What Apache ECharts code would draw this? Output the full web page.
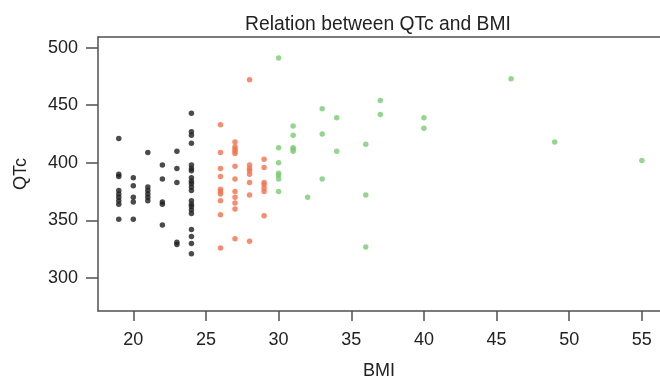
<!DOCTYPE html>
<html><head><meta charset="utf-8">
<script src="https://cdn.jsdelivr.net/npm/echarts@6/dist/echarts.min.js"></script>
<style>html,body{margin:0;padding:0;background:#fff}#c{width:660px;height:379px}</style>
</head><body><div id="c"></div>
<script>
var title = "Relation between QTc and BMI";
var xTicks = [20, 25, 30, 35, 40, 45, 50, 55];
var yTicks = [300, 350, 400, 450, 500];
// BMI < 25 (black)
var lowBMI = [19,19,19,19,19,19,19,19,19, 20,20,20,20,20, 21,21,21,21,21,21, 22,22,22,22,22, 23,23,23,23,23,
  24,24,24,24,24,24,24,24,24,24,24,24,24,24,24,24,24,24,24,24,24];
var lowQTc = [421,390,388,376,373,370,367,364,351, 387,380,370,366,351, 409,379,376,373,370,367, 398,386,366,364,346, 410,395,383,331,329,
  443,427,424,417,398,395,393,387,384,382,379,376,367,364,362,359,356,342,336,330,321];
// BMI 25-30 (red)
var midBMI = [26,26,26,26,26,26,26,26,26,26, 27,27,27,27,27,27,27,27,27,27,27,27, 28,28,28,28,28,28,28,28, 29,29,29,29,29,29,29];
var midQTc = [433,409,395,388,377,375,373,367,355,326, 418,414,412,410,408,397,386,375,370,365,360,334, 472,398,395,393,390,383,372,332, 403,396,383,381,378,375,354];
// BMI >= 30 (green)
var highBMI = [30,30,30,30,30,30,30, 31,31,31,31,31, 32, 33,33,33, 34,34, 36,36,36, 37,37, 40,40, 46, 49, 55];
var highQTc = [491,413,400,391,389,386,375, 432,424,413,412,410, 370, 447,425,386, 439,410, 416,372,327, 454,442, 439,430, 473, 418, 402];

function pairs(xs, ys){ return xs.map(function(x,i){ return [x, ys[i]]; }); }
var font = "'Liberation Sans', Arial, sans-serif";
var axisCol = '#505050';
var txtCol = '#222222';
var xMin = 17.57, xMax = 17.57 + 562/14.53;
var yMin = 271.35, yMax = 271.35 + 274/1.152;
var chart = echarts.init(document.getElementById('c'), null, {renderer:'canvas'});
chart.setOption({
  animation:false,
  backgroundColor:'#ffffff',
  title:{text:title, left:373, top:10, textAlign:'center',
    textStyle:{fontFamily:font, fontSize:19.3, fontWeight:'normal', color:txtCol}},
  grid:{left:98, top:37, width:562, height:274, outerBoundsMode:'none', containLabel:false},
  xAxis:[{type:'value', min:xMin, max:xMax, name:'BMI', nameLocation:'middle', nameGap:51,
    nameTextStyle:{fontFamily:font, fontSize:18, color:txtCol},
    splitLine:{show:false},
    axisLine:{show:true, onZero:false, lineStyle:{color:axisCol, width:1.5}},
    axisTick:{show:true, inside:false, length:10, customValues:xTicks, lineStyle:{color:axisCol, width:1.5}},
    axisLabel:{customValues:xTicks, margin:20, fontFamily:font, fontSize:18, color:txtCol}
  },{type:'value', position:'top', min:xMin, max:xMax,
    splitLine:{show:false}, axisTick:{show:false}, axisLabel:{show:false},
    axisLine:{show:true, onZero:false, lineStyle:{color:axisCol, width:1.5}}
  }],
  yAxis:{type:'value', min:yMin, max:yMax, name:'QTc', nameLocation:'middle', nameGap:68, nameRotate:90,
    nameTextStyle:{fontFamily:font, fontSize:18, color:txtCol},
    splitLine:{show:false},
    axisLine:{show:true, onZero:false, lineStyle:{color:axisCol, width:1.5}},
    axisTick:{show:true, inside:false, length:12, customValues:yTicks, lineStyle:{color:axisCol, width:1.5}},
    axisLabel:{customValues:yTicks, margin:20, fontFamily:font, fontSize:18, color:txtCol}
  },
  series:[
    {type:'scatter', data:pairs(lowBMI, lowQTc), symbol:'circle', symbolSize:5.5, itemStyle:{color:'#1e1e1e'}},
    {type:'scatter', data:pairs(midBMI, midQTc), symbol:'circle', symbolSize:5.5, itemStyle:{color:'#f4704e'}},
    {type:'scatter', data:pairs(highBMI, highQTc), symbol:'circle', symbolSize:5.5, itemStyle:{color:'#7acb74'}}
  ]
});
</script></body></html>
